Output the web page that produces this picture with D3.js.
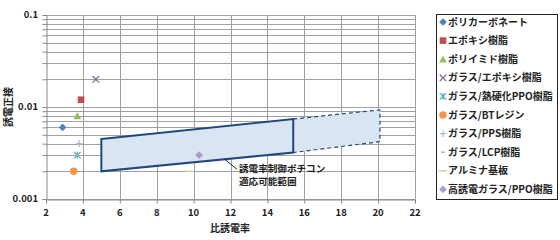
<!DOCTYPE html>
<html>
<head>
<meta charset="utf-8">
<script src="https://cdn.jsdelivr.net/npm/d3@7"></script>
<style>
  body { margin: 0; background: #fff; }
  text { font-family: "Noto Sans CJK JP", "Noto Sans", sans-serif; font-weight: bold; fill: #222; }
</style>
</head>
<body>
<svg id="viz" width="560" height="240"></svg>
<script>
// materials: name, permittivity, loss tangent
const names = ["ポリカーボネート", "エポキシ樹脂", "ポリイミド樹脂", "ガラス/エポキシ樹脂",
  "ガラス/熱硬化PPO樹脂", "ガラス/BTレジン", "ガラス/PPS樹脂", "ガラス/LCP樹脂",
  "アルミナ基板", "高誘電ガラス/PPO樹脂"];
const permittivity = [2.9, 3.9, 3.7, 4.7, 3.7, 3.5, 3.8, 3.7, 9.8, 10.3];
const lossTangent = [0.006, 0.012, 0.008, 0.02, 0.003, 0.002, 0.004, 0.003, 0.002, 0.003];
const markers = ["diamond", "square", "triangle", "cross", "star", "circle", "plus", "dash", "longdash", "diamond"];
const colors = ["#4F81BD", "#C0504D", "#9BBB59", "#8064A2", "#4BACC6", "#F79646",
  "#A7B9D9", "#D6A3A2", "#C6D9A0", "#A99BCB"];

const xTicks = [2, 4, 6, 8, 10, 12, 14, 16, 18, 20, 22];
const yTicks = [0.001, 0.01, 0.1];

// applicable range of the permittivity-controlled composite
const regionSolid = [[5, 0.0045], [15.4, 0.0074], [15.4, 0.0032], [5, 0.002]];
const regionDashed = [[15.4, 0.0074], [20.1, 0.0093], [20.1, 0.0042], [15.4, 0.0032]];
const regionLabel = ["誘電率制御ポチコン", "適応可能範囲"];
const labelAnchor = [11.7, 0.0027];

const svg = d3.select("#viz");
const x = d3.scaleLinear().domain([2, 22]).range([46, 415]);
const y = d3.scaleLog().domain([0.001, 0.1]).range([199, 15]);

// gridlines
const minor = [];
[0.001, 0.01].forEach(d => { for (let i = 1; i < 10; i++) minor.push(d * i); });
minor.push(0.1);
svg.append("g").selectAll("line").data(minor).enter().append("line")
  .attr("x1", x(2)).attr("x2", x(22))
  .attr("y1", d => Math.round(y(d)) + 0.5).attr("y2", d => Math.round(y(d)) + 0.5)
  .attr("stroke", "#a0a0a0").attr("stroke-width", 1);
svg.append("g").selectAll("line").data(xTicks.slice(1)).enter().append("line")
  .attr("x1", d => Math.round(x(d)) + 0.5).attr("x2", d => Math.round(x(d)) + 0.5)
  .attr("y1", y(0.1)).attr("y2", y(0.001))
  .attr("stroke", "#a0a0a0").attr("stroke-width", 1);

// axes
const yAxis = svg.append("g").attr("transform", "translate(46.5,0)")
  .call(d3.axisLeft(y).tickValues(minor).tickSize(4).tickFormat(""));
yAxis.selectAll(".tick line").attr("stroke", "#888");
yAxis.select(".domain").attr("stroke", "#888");
svg.append("g").selectAll("text").data(yTicks).enter().append("text")
  .attr("x", 38).attr("y", d => y(d)).attr("dy", "0.35em")
  .attr("text-anchor", "end").attr("font-size", 9.5).text(d => d);

const xAxis = svg.append("g").attr("transform", "translate(0,199.5)")
  .call(d3.axisBottom(x).tickValues(xTicks).tickSize(4).tickFormat(""));
xAxis.selectAll(".tick line").attr("stroke", "#888");
xAxis.select(".domain").attr("stroke", "#888");
svg.append("g").selectAll("text").data(xTicks).enter().append("text")
  .attr("x", d => x(d)).attr("y", 216)
  .attr("text-anchor", "middle").attr("font-size", 9.5).text(d => d);

svg.append("text").attr("x", 230).attr("y", 232).attr("text-anchor", "middle")
  .attr("font-size", 10).text("比誘電率");
svg.append("text").attr("transform", "translate(12,107) rotate(-90)")
  .attr("text-anchor", "middle").attr("font-size", 10).text("誘電正接");

// region
const line = d3.line().x(d => x(d[0])).y(d => y(d[1]));
svg.append("path").attr("d", line(regionDashed) + "Z")
  .attr("fill", "#dae5f4").attr("stroke", "#1F497D")
  .attr("stroke-width", 1.2).attr("stroke-dasharray", "4,3");
svg.append("path").attr("d", line(regionSolid) + "Z")
  .attr("fill", "#dae5f4").attr("stroke", "#1F497D").attr("stroke-width", 2);

svg.append("line")
  .attr("x1", x(labelAnchor[0])).attr("y1", y(labelAnchor[1]))
  .attr("x2", x(labelAnchor[0]) + 12).attr("y2", y(labelAnchor[1]) + 10)
  .attr("stroke", "#222").attr("stroke-width", 1);
svg.append("g").selectAll("text").data(regionLabel).enter().append("text")
  .attr("x", x(labelAnchor[0]) + 14).attr("y", (d, i) => y(labelAnchor[1]) + 13 + i * 13)
  .attr("font-size", 9.6).text(d => d);

// markers
function drawMarker(g, type, color) {
  const s = 3.3;
  if (type === "diamond") g.append("path").attr("d", `M0,${-s - 0.5}L${s + 0.5},0L0,${s + 0.5}L${-s - 0.5},0Z`).attr("fill", color);
  else if (type === "square") g.append("rect").attr("x", -s).attr("y", -s).attr("width", 2 * s).attr("height", 2 * s).attr("fill", color);
  else if (type === "triangle") g.append("path").attr("d", `M0,${-s - 0.5}L${s + 0.5},${s}L${-s - 0.5},${s}Z`).attr("fill", color);
  else if (type === "circle") g.append("circle").attr("r", s + 0.5).attr("fill", color);
  else if (type === "cross") g.append("path").attr("d", `M${-s},${-s}L${s},${s}M${-s},${s}L${s},${-s}`).attr("stroke", color).attr("stroke-width", 1.2);
  else if (type === "star") g.append("path").attr("d", `M${-s},${-s}L${s},${s}M${-s},${s}L${s},${-s}M0,${-s}L0,${s}`).attr("stroke", color).attr("stroke-width", 1.2);
  else if (type === "plus") g.append("path").attr("d", `M${-s},0L${s},0M0,${-s}L0,${s}`).attr("stroke", color).attr("stroke-width", 1.2);
  else if (type === "dash") g.append("path").attr("d", `M-2,0L2,0`).attr("stroke", color).attr("stroke-width", 1.5);
  else if (type === "longdash") g.append("path").attr("d", `M-4,0L4,0`).attr("stroke", color).attr("stroke-width", 1.5);
}

const pts = svg.append("g").selectAll("g").data(names).enter().append("g")
  .attr("transform", (d, i) => `translate(${x(permittivity[i])},${y(lossTangent[i])})`);
pts.each(function (d, i) { drawMarker(d3.select(this), markers[i], colors[i]); });

// legend
const legend = svg.append("g");
legend.append("rect").attr("x", 436.5).attr("y", 14.5).attr("width", 121).attr("height", 185)
  .attr("fill", "#fff").attr("stroke", "#222").attr("stroke-width", 1);
const items = legend.selectAll("g.item").data(names).enter().append("g")
  .attr("class", "item")
  .attr("transform", (d, i) => `translate(443,${22 + i * 18.6})`);
items.each(function (d, i) { drawMarker(d3.select(this), markers[i], colors[i]); });
items.append("text").attr("x", 5).attr("dy", "0.35em").attr("font-size", 10).text(d => d);
</script>
</body>
</html>
